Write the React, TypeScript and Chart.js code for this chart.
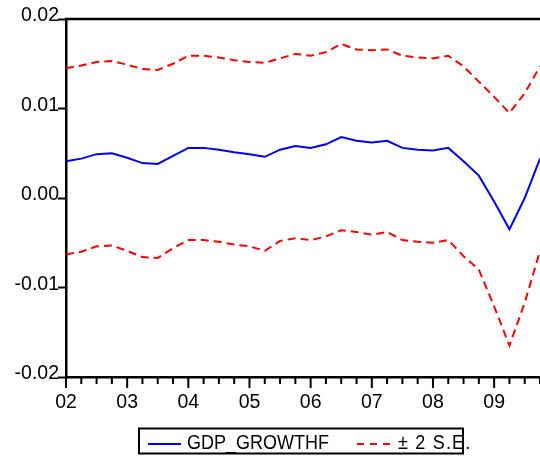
import React, { useEffect, useRef } from "react";
import { Chart, registerables } from "chart.js";

Chart.register(...registerables);

const quarters = [
  "2002Q1", "2002Q2", "2002Q3", "2002Q4",
  "2003Q1", "2003Q2", "2003Q3", "2003Q4",
  "2004Q1", "2004Q2", "2004Q3", "2004Q4",
  "2005Q1", "2005Q2", "2005Q3", "2005Q4",
  "2006Q1", "2006Q2", "2006Q3", "2006Q4",
  "2007Q1", "2007Q2", "2007Q3", "2007Q4",
  "2008Q1", "2008Q2", "2008Q3", "2008Q4",
  "2009Q1", "2009Q2", "2009Q3", "2009Q4",
];

const forecast = [
  0.0041, 0.0044, 0.0049, 0.0050, 0.0045, 0.0039, 0.0038, 0.0047,
  0.0056, 0.0056, 0.0054, 0.0051, 0.0049, 0.0046, 0.0054, 0.0058,
  0.0056, 0.0060, 0.0068, 0.0064, 0.0062, 0.0064, 0.0056, 0.0054,
  0.0053, 0.0056, 0.0041, 0.0025, -0.0004, -0.0035, 0.0000, 0.0044,
];

const upperBand = [
  0.0145, 0.0148, 0.0152, 0.0153, 0.0149, 0.0144, 0.0143, 0.0150,
  0.0159, 0.0159, 0.0157, 0.0154, 0.0152, 0.0151, 0.0156, 0.0161,
  0.0159, 0.0163, 0.0172, 0.0166, 0.0165, 0.0166, 0.0159, 0.0157,
  0.0156, 0.0159, 0.0147, 0.0130, 0.0113, 0.0095, 0.0117, 0.0147,
];

const lowerBand = [
  -0.0063, -0.0060, -0.0054, -0.0053, -0.0059, -0.0066, -0.0067, -0.0056,
  -0.0047, -0.0047, -0.0049, -0.0052, -0.0054, -0.0059, -0.0048, -0.0045,
  -0.0047, -0.0043, -0.0036, -0.0038, -0.0041, -0.0038, -0.0047, -0.0049,
  -0.0050, -0.0047, -0.0065, -0.0080, -0.0121, -0.0165, -0.0117, -0.0059,
];

const seriesName = "GDP_GROWTHF";
const bandName = "± 2 S.E.";

const FONT = "'Liberation Sans', Arial, sans-serif";

function stretchedText(ctx: any, text: string, x: number, baseline: number, spacing: number) {
  ctx.save();
  ctx.translate(x, baseline);
  ctx.scale(1, 1.15);
  if ("letterSpacing" in ctx) ctx.letterSpacing = `${spacing}px`;
  ctx.fillText(text, 0, 0);
  ctx.restore();
}

const framePlugin = {
  id: "frame",
  afterDraw(chart: any) {
    const { ctx, chartArea, scales } = chart;
    const { left, right, top, bottom } = chartArea;
    const x = scales.x;
    ctx.save();
    ctx.strokeStyle = "#000";
    ctx.lineWidth = 2.5;
    ctx.beginPath();
    ctx.moveTo(left - 1.25, top);
    ctx.lineTo(right, top);
    ctx.stroke();

    ctx.lineWidth = 2;
    quarters.forEach((q, i) => {
      const px = x.getPixelForValue(i);
      const len = q.endsWith("Q1") ? 11 : 7;
      ctx.beginPath();
      ctx.moveTo(px, bottom);
      ctx.lineTo(px, bottom + len);
      ctx.stroke();
    });

    // legend
    ctx.lineWidth = 2;
    ctx.strokeStyle = "#000";
    ctx.strokeRect(139, 428.5, 324, 25);

    ctx.strokeStyle = "#0000FF";
    ctx.beginPath();
    ctx.moveTo(148, 444);
    ctx.lineTo(181, 444);
    ctx.stroke();

    ctx.strokeStyle = "#FF0000";
    ctx.setLineDash([7, 6]);
    ctx.beginPath();
    ctx.moveTo(357, 444);
    ctx.lineTo(391, 444);
    ctx.stroke();
    ctx.setLineDash([]);

    ctx.fillStyle = "#000";
    ctx.font = `18px ${FONT}`;
    ctx.textBaseline = "alphabetic";
    ctx.textAlign = "left";
    stretchedText(ctx, seriesName, 187, 448.5, 0);
    stretchedText(ctx, bandName, 398, 448.5, 1.2);
    ctx.restore();
  },
};

export default function App() {
  const ref = useRef<HTMLCanvasElement | null>(null);

  useEffect(() => {
    document.body.style.margin = "0";
    const canvas = ref.current;
    if (!canvas) return;
    const chart = new Chart(canvas, {
      type: "line",
      data: {
        labels: quarters,
        datasets: [
          {
            label: seriesName,
            data: forecast,
            borderColor: "#0000FF",
            borderWidth: 2,
            pointRadius: 0,
            tension: 0,
            fill: false,
          },
          {
            label: bandName,
            data: upperBand,
            borderColor: "#FF0000",
            borderWidth: 2,
            borderDash: [8, 5],
            pointRadius: 0,
            tension: 0,
            fill: false,
          },
          {
            label: bandName + " lower",
            data: lowerBand,
            borderColor: "#FF0000",
            borderWidth: 2,
            borderDash: [8, 5],
            pointRadius: 0,
            tension: 0,
            fill: false,
          },
        ],
      },
      options: {
        responsive: false,
        animation: false,
        layout: { autoPadding: false, padding: { top: 19, left: 0, right: 0, bottom: 0 } },
        plugins: {
          legend: { display: false },
          tooltip: { enabled: false },
        },
        scales: {
          x: {
            type: "category",
            offset: false,
            grid: { display: false, drawTicks: false },
            border: { display: true, color: "#000", width: 2.5 },
            ticks: {
              autoSkip: false,
              maxRotation: 0,
              minRotation: 0,
              padding: 14,
              color: "#000",
              font: { family: FONT, size: 19.5 },
              callback: (_v: any, i: number) =>
                quarters[i].endsWith("Q1") ? quarters[i].slice(2, 4) : "",
            },
            afterFit: (scale: any) => {
              scale.height = 80;
              scale.paddingRight = 0;
              scale.paddingLeft = 0;
            },
          },
          y: {
            min: -0.02,
            max: 0.02,
            grid: {
              drawOnChartArea: false,
              drawTicks: true,
              tickLength: 8,
              tickWidth: 2,
              tickColor: "#000",
            },
            border: { display: true, color: "#000", width: 2.5 },
            ticks: {
              stepSize: 0.01,
              padding: -1,
              labelOffset: -3,
              color: "#000",
              font: { family: FONT, size: 19.5 },
              callback: (v: any) => {
                const n = Number(v);
                return Math.abs(n) < 1e-9 ? "0.00" : n.toFixed(2);
              },
            },
            afterFit: (scale: any) => {
              scale.width = 66;
            },
          },
        },
      },
      plugins: [framePlugin],
    });
    return () => chart.destroy();
  }, []);

  return (
    <div style={{ position: "absolute", left: 0, top: 0, width: 540, height: 457 }}>
      <canvas ref={ref} width={540} height={457} style={{ width: 540, height: 457 }} />
    </div>
  );
}
